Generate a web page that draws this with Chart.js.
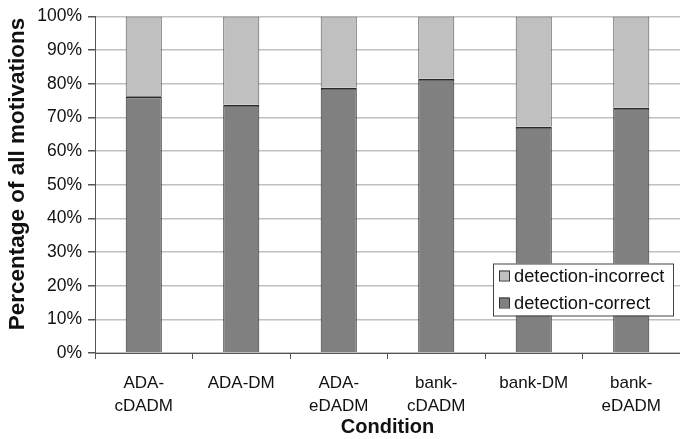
<!DOCTYPE html>
<html>
<head>
<meta charset="utf-8">
<script src="https://cdn.jsdelivr.net/npm/chart.js@4"></script>
<style>
  html, body { margin: 0; padding: 0; background: #fff; }
  #wrap { width: 680px; height: 439px; position: relative; }
</style>
</head>
<body>
<div id="wrap"><canvas id="c" width="680" height="439"></canvas></div>
<script>
// Share of motivations by condition, split by detection outcome (percent)
const conditions = [["ADA-", "cDADM"], "ADA-DM", ["ADA-", "eDADM"], ["bank-", "cDADM"], "bank-DM", ["bank-", "eDADM"]];
const detectionCorrect = [76.3, 73.8, 78.8, 81.5, 67.2, 72.9];
const detectionIncorrect = [23.7, 26.2, 21.2, 18.5, 32.8, 27.1];
const yTicks = [0, 10, 20, 30, 40, 50, 60, 70, 80, 90, 100];
const yTitle = 'Percentage of all motivations';

const FONT = "'Liberation Sans', Arial, sans-serif";

// Boxed legend inside the plot area (lower right) and the rotated y-axis title
const decorations = {
  id: 'decorations',
  afterDraw(chart) {
    const ctx = chart.ctx;
    const area = chart.chartArea;
    const items = [chart.data.datasets[1], chart.data.datasets[0]];
    const w = 180, h = 52;
    const x = area.right - w - 7, y = area.top + 247;
    ctx.save();
    ctx.fillStyle = '#fff';
    ctx.fillRect(x, y, w, h);
    ctx.strokeStyle = '#444';
    ctx.lineWidth = 1;
    ctx.strokeRect(x + 0.5, y + 0.5, w, h);
    ctx.font = '18.3px ' + FONT;
    ctx.textBaseline = 'middle';
    items.forEach((ds, i) => {
      const cy = y + 12 + i * 27;
      ctx.fillStyle = ds.backgroundColor;
      ctx.fillRect(x + 6, cy - 5, 10, 10);
      ctx.strokeStyle = '#333';
      ctx.strokeRect(x + 6.5, cy - 4.5, 10, 10);
      ctx.fillStyle = '#111';
      ctx.fillText(ds.label, x + 21, cy + 1);
    });

    ctx.translate(18, 174);
    ctx.rotate(-Math.PI / 2);
    ctx.font = 'bold 22.5px ' + FONT;
    ctx.textAlign = 'center';
    ctx.textBaseline = 'middle';
    ctx.fillStyle = '#111';
    ctx.fillText(yTitle, 0, 0);
    ctx.restore();
  }
};

new Chart(document.getElementById('c'), {
  type: 'bar',
  data: {
    labels: conditions,
    datasets: [
      {
        label: 'detection-correct',
        data: detectionCorrect,
        backgroundColor: '#808080',
        borderColor: '#2a2a2a',
        borderWidth: { top: 2, left: 1, right: 1, bottom: 0 },
        borderSkipped: false,
        categoryPercentage: 1,
        barPercentage: 0.37
      },
      {
        label: 'detection-incorrect',
        data: detectionIncorrect,
        backgroundColor: '#c0c0c0',
        borderColor: '#555',
        borderWidth: { top: 1, left: 1, right: 1, bottom: 0 },
        borderSkipped: false,
        categoryPercentage: 1,
        barPercentage: 0.37
      }
    ]
  },
  options: {
    responsive: false,
    animation: false,
    layout: { padding: { top: 14, right: 0, bottom: 0, left: 0 } },
    plugins: {
      legend: { display: false },
      tooltip: { enabled: false }
    },
    scales: {
      x: {
        stacked: true,
        offset: true,
        grid: {
          offset: true,
          drawOnChartArea: false,
          tickLength: 6,
          tickColor: '#555',
          color: '#555'
        },
        border: { color: '#555', width: 1 },
        ticks: {
          color: '#111',
          font: { family: FONT, size: 17, lineHeight: 1.4 },
          maxRotation: 0,
          autoSkip: false,
          padding: 12
        },
        title: {
          display: true,
          text: 'Condition',
          color: '#111',
          font: { family: FONT, size: 20, weight: 'bold' },
          padding: { top: 0, bottom: 0 }
        },
        afterFit(scale) { scale.height = 86; }
      },
      y: {
        stacked: true,
        min: 0,
        max: 100,
        afterBuildTicks(scale) { scale.ticks = yTicks.map(v => ({ value: v })); },
        grid: {
          color: '#c0c0c0',
          lineWidth: 1.5,
          tickLength: 7,
          tickColor: '#555'
        },
        border: { color: '#555', width: 1 },
        ticks: {
          color: '#111',
          font: { family: FONT, size: 17.5 },
          padding: 6,
          callback: v => v + '%'
        },
        afterFit(scale) { scale.width = 95; }
      }
    }
  },
  plugins: [decorations]
});
</script>
</body>
</html>
